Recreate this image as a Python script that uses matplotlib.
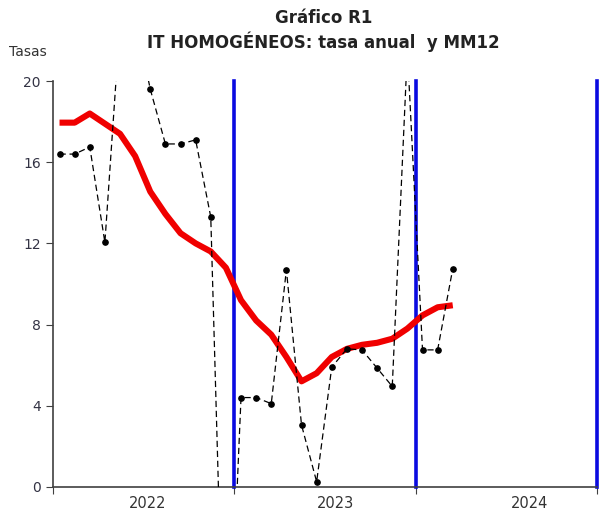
import numpy as np
import matplotlib.pyplot as plt

# monthly data, Jan 2022 .. Mar 2024
tasa_anual = [16.4, 16.4, 16.75, 12.05, 22.9, 23.2, 19.6, 16.9, 16.9, 17.1, 13.3, -13.0,
              4.4, 4.4, 4.1, 10.7, 3.05, 0.25, 5.9, 6.8, 6.75, 5.85, 4.95, 21.5,
              6.75, 6.75, 10.75]
mm12 = [17.95, 17.95, 18.4, 17.9, 17.4, 16.3, 14.55, 13.45, 12.5, 12.0, 11.6, 10.8,
        9.2, 8.2, 7.5, 6.4, 5.2, 5.6, 6.4, 6.8, 7.0, 7.1, 7.3, 7.8,
        8.45, 8.85, 8.95]
years = ['2022', '2023', '2024']
year_breaks = [12, 24, 36]
year_label_pos = [6.3, 18.7, 31.5]

x = np.arange(len(tasa_anual)) + 0.45

fig = plt.figure(figsize=(5.99, 5.13), dpi=100)
ax = fig.add_axes([0.088, 0.051, 0.909, 0.791])

for xb in year_breaks:
    ax.plot([xb, xb], [0, 20], color='#0a0ae0', linewidth=2.6, zorder=2, clip_on=False)
ax.plot(x[:len(mm12)], mm12, color='#f00000', linewidth=4.4, solid_capstyle='butt', zorder=3)
ax.plot(x, tasa_anual, color='black', linestyle=(0, (5, 3)), linewidth=0.9,
        marker='o', markersize=3.8, zorder=4)

ax.set_xlim(0, 36)
ax.set_ylim(0, 20)
ax.set_yticks(np.arange(0, 21, 4))
ax.set_xticks([0, 12, 24, 36])
ax.set_xticklabels([])
ax.set_xticks(year_label_pos, minor=True)
ax.set_xticklabels(years, minor=True)
ax.tick_params(axis='x', which='minor', length=0, pad=6.5, labelsize=10.5, labelcolor='#333333')
ax.tick_params(axis='x', which='major', direction='out', length=5, color='#404040')
ax.tick_params(axis='y', direction='out', length=5, color='#404040', labelsize=10,
               labelcolor='#333344')
for s in ['top', 'right']:
    ax.spines[s].set_visible(False)
for s in ['left', 'bottom']:
    ax.spines[s].set_color('#404040')
    ax.spines[s].set_linewidth(1.2)

fig.text(0.54, 0.965, 'Gráfico R1', ha='center', va='center', fontsize=12, fontweight='bold',
         color='#222222')
fig.text(0.54, 0.918, 'IT HOMOGÉNEOS: tasa anual  y MM12', ha='center', va='center',
         fontsize=12, fontweight='bold', color='#222222')
fig.text(0.015, 0.898, 'Tasas', ha='left', va='center', fontsize=10, color='#333333')

plt.savefig('out.png')
plt.close()
